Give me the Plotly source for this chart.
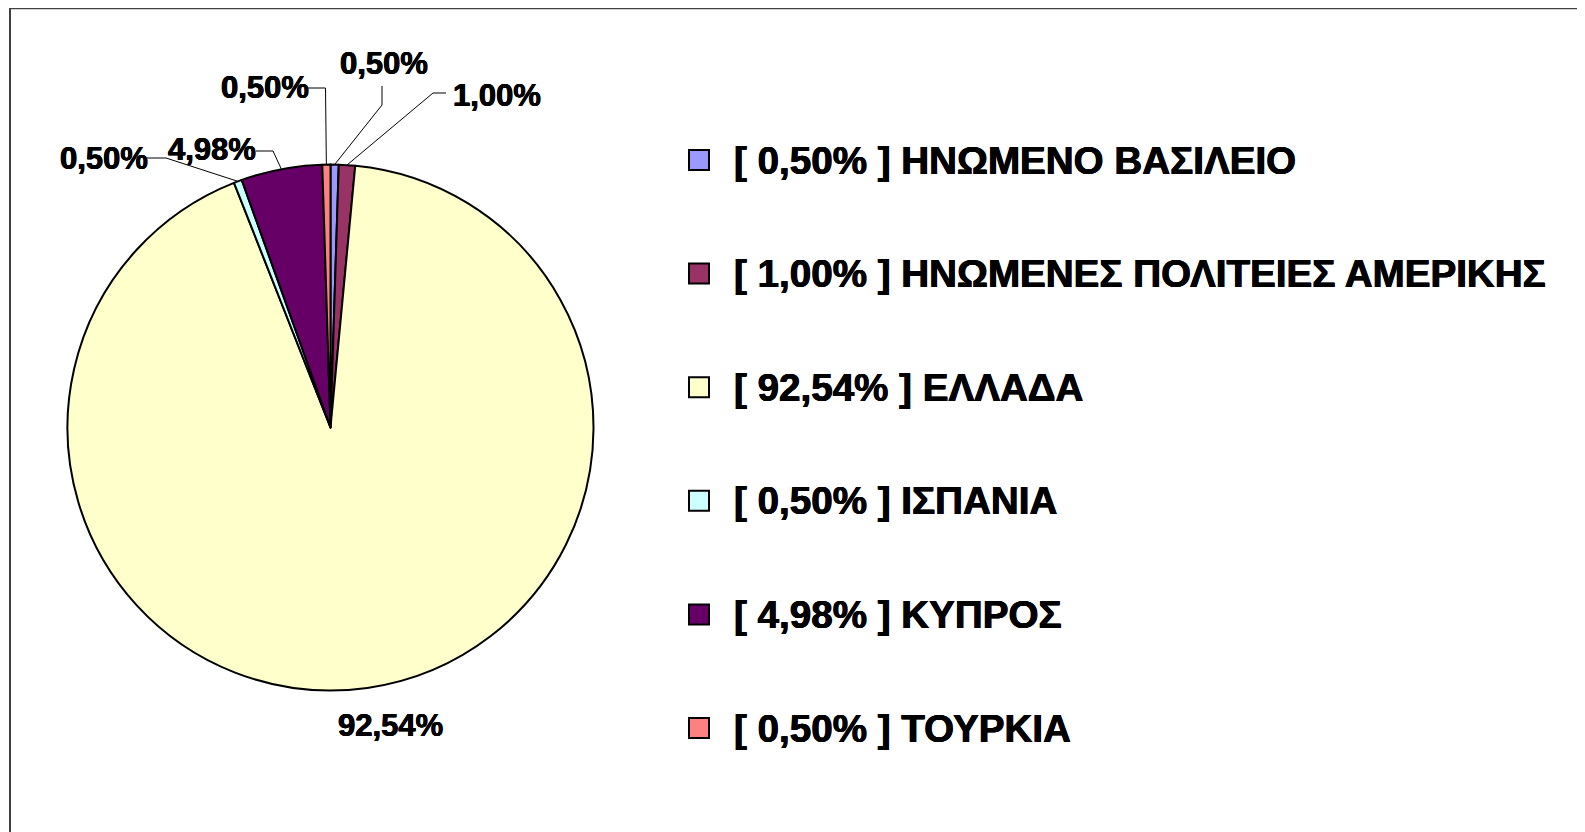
import math
import plotly.graph_objects as go

W, H = 1585, 832
OFF = 8  # page body margin of the browser

# ---- data ----
countries = ["ΗΝΩΜΕΝΟ ΒΑΣΙΛΕΙΟ", "ΗΝΩΜΕΝΕΣ ΠΟΛΙΤΕΙΕΣ ΑΜΕΡΙΚΗΣ", "ΕΛΛΑΔΑ",
             "ΙΣΠΑΝΙΑ", "ΚΥΠΡΟΣ", "ΤΟΥΡΚΙΑ"]
shares = [0.50, 1.00, 92.54, 0.50, 4.98, 0.50]
colors = ["#9999FF", "#993366", "#FFFFCC", "#CCFFFF", "#660066", "#FF8080"]

# ---- layout helpers (screen pixel -> paper) ----
def px(x):
    return (x - OFF) / W

def py(y):
    return 1 - (y - OFF) / H

def fmt(v):
    return f"{v:.2f}".replace(".", ",") + "%"

cx, cy, r = 330.5, 427.5, 263.0

fig = go.Figure(go.Pie(
    labels=countries,
    values=shares,
    sort=False,
    direction="clockwise",
    rotation=0,
    marker=dict(colors=colors, line=dict(color="#000000", width=2)),
    textinfo="none",
    hoverinfo="label+percent",
    showlegend=False,
    domain=dict(x=[px(cx - r), px(cx + r)], y=[py(cy + r), py(cy - r)]),
))

shapes = []
annotations = []

# slice mid-angles (clockwise from 12 o'clock) computed from data
total = sum(shares)
mids = []
acc = 0.0
for v in shares:
    mids.append((acc + v / 2) / total * 2 * math.pi)
    acc += v

def edge(i):
    a = mids[i]
    return cx + r * math.sin(a), cy - r * math.cos(a)

# label text positions (pixel centre) and leader-line elbow points
label_pos = [
    (384, 64, [(382, 86), (382, 105)]),        # UK
    (497, 95, [(446, 93), (433, 93)]),         # USA
    (390, 725, None),                          # Greece
    (104, 158, [(147, 158), (166, 158)]),      # Spain
    (212, 149, [(256, 151), (273, 151)]),      # Cyprus
    (265, 87, [(307, 88), (325.5, 88)]),       # Turkey
]

heavy = "0.5px 0px 0px #000, -0.4px 0px 0px #000, 0px 0.4px 0px #000"
label_font = dict(family="Liberation Sans, Arial, sans-serif", size=31,
                  color="#000000", shadow=heavy)

for i, (lx, ly, pts) in enumerate(label_pos):
    annotations.append(dict(
        x=px(lx), y=py(ly), xref="paper", yref="paper",
        text=f"<b>{fmt(shares[i])}</b>", showarrow=False,
        xanchor="center", yanchor="middle", font=label_font,
    ))
    if pts:
        path_pts = pts + [edge(i)]
        d = "M " + " L ".join(f"{px(x)},{py(y)}" for x, y in path_pts)
        shapes.append(dict(type="path", path=d, xref="paper", yref="paper",
                           line=dict(color="#000000", width=1)))

# ---- manual legend ----
leg_x_sq = 699
leg_x_txt = 732
leg_y0 = 160
leg_dy = 113.6
sq = 20
legend_font = dict(family="Liberation Sans, Arial, sans-serif", size=38.6,
                   color="#000000", shadow=heavy)
for i, name in enumerate(countries):
    yc = leg_y0 + i * leg_dy
    shapes.append(dict(
        type="rect", xref="paper", yref="paper",
        x0=px(leg_x_sq - sq / 2), x1=px(leg_x_sq + sq / 2),
        y0=py(yc + sq / 2), y1=py(yc - sq / 2),
        fillcolor=colors[i], line=dict(color="#000000", width=2),
    ))
    annotations.append(dict(
        x=px(leg_x_txt), y=py(yc), xref="paper", yref="paper",
        text=f"<b>[ {fmt(shares[i])} ] {name}</b>", showarrow=False,
        xanchor="left", yanchor="middle", font=legend_font,
    ))

# ---- chart area border (top and left visible) ----
shapes.append(dict(type="line", xref="paper", yref="paper",
                   x0=px(9), x1=1.0, y0=py(8.3), y1=py(8.3),
                   line=dict(color="#404040", width=2)))
shapes.append(dict(type="line", xref="paper", yref="paper",
                   x0=px(10), x1=px(10), y0=py(7.5), y1=0.0,
                   line=dict(color="#404040", width=2)))

fig.update_layout(
    width=W, height=H,
    margin=dict(l=0, r=0, t=0, b=0),
    paper_bgcolor="#FFFFFF",
    plot_bgcolor="#FFFFFF",
    shapes=shapes,
    annotations=annotations,
    showlegend=False,
)

fig.write_html("out.html", config={"displayModeBar": False})
